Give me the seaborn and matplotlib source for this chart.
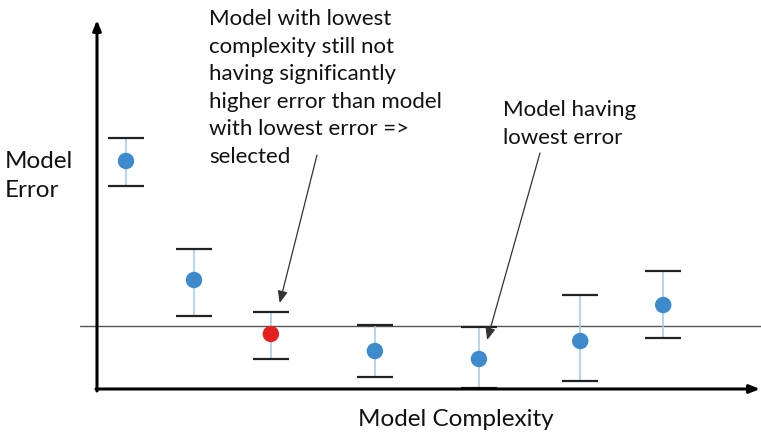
import matplotlib
matplotlib.use("Agg")
import matplotlib.pyplot as plt
import numpy as np
import pandas as pd
import seaborn as sns

# Model complexity (x) and cross-validated error relative to the 1-SE threshold line
complexity = [1.0, 2.0, 3.13, 4.66, 6.19, 7.68, 8.9]
error_mean = [16.5, 4.6, -0.8, -2.5, -3.3, -1.5, 2.1]
error_upper = [18.8, 7.7, 1.4, 0.1, -0.1, 3.1, 5.5]
error_lower = [14.0, 1.0, -3.3, -5.1, -6.2, -5.5, -1.2]
status = ["other", "other", "selected", "other", "other", "other", "other"]
threshold = 0.0

df = pd.DataFrame({"complexity": complexity, "error": error_mean,
                   "upper": error_upper, "lower": error_lower, "status": status})

sns.set_theme(style="white")
plt.rcParams["font.family"] = ["Lato", "DejaVu Sans"]

fig = plt.figure(figsize=(7.61, 4.38), dpi=100)
ax = fig.add_axes([0, 0, 1, 1])
ax.set_xlim(-0.853, 10.338)
ax.set_ylim(-11.2, 32.6)
ax.axis("off")

blue = "#3d8bcd"
red = "#e3211e"
W, H = 761, 438


def fr(px, py):
    """Convert a pixel position (origin top-left) into axes fraction."""
    return (px / W, 1 - py / H)


# threshold line
ax.axhline(threshold, xmin=80 / W, xmax=1, color="#555555", lw=1.0, zorder=1)

# error bars: light blue stems, black caps
yerr = np.vstack([df["error"] - df["lower"], df["upper"] - df["error"]])
eb = ax.errorbar(df["complexity"], df["error"], yerr=yerr, fmt="none",
                 ecolor="#a9cdeb", elinewidth=1.2, capsize=13, capthick=1.6, zorder=2)
for cap in eb[1]:
    cap.set_color("#222222")
    cap.set_markeredgecolor("#222222")

sns.scatterplot(data=df, x="complexity", y="error", hue="status",
                palette={"other": blue, "selected": red}, s=140,
                edgecolor="none", legend=False, ax=ax, zorder=3)

# axes drawn as arrows
axis_arrow = dict(arrowstyle="-|>,head_length=0.5,head_width=0.2",
                  color="black", lw=2.2, shrinkA=0, shrinkB=0)
ax.annotate("", xy=fr(97, 20), xytext=fr(97, 391), xycoords="axes fraction",
            arrowprops=axis_arrow)
ax.annotate("", xy=fr(760, 389), xytext=fr(96, 389), xycoords="axes fraction",
            arrowprops=axis_arrow)

ax.text(*fr(5, 176), "Model\nError", transform=ax.transAxes,
        fontsize=17.5, color="#111111", ha="left", va="center", linespacing=1.45)
ax.text(*fr(456, 419), "Model Complexity", transform=ax.transAxes,
        fontsize=17.5, color="#111111", ha="center", va="center")

sel = df[df["status"] == "selected"].iloc[0]
best = df.loc[df["error"].idxmin()]

note_arrow = dict(arrowstyle="-|>,head_length=0.6,head_width=0.25",
                  color="#333333", lw=0.9, shrinkA=0, shrinkB=0)

ax.text(*fr(209, 88), "Model with lowest\ncomplexity still not\nhaving significantly\n"
        "higher error than model\nwith lowest error =>\nselected",
        transform=ax.transAxes, fontsize=16, ha="left", va="center",
        linespacing=1.47, color="#111111")
ax.annotate("", xy=(sel["complexity"] + 0.13, sel["upper"] + 0.9), xycoords="data",
            xytext=fr(317, 155), textcoords="axes fraction", arrowprops=note_arrow)

ax.text(*fr(503, 124), "Model having\nlowest error", transform=ax.transAxes,
        fontsize=16, ha="left", va="center", linespacing=1.47, color="#111111")
ax.annotate("", xy=(best["complexity"] + 0.12, best["error"] + 1.9), xycoords="data",
            xytext=fr(540, 153), textcoords="axes fraction", arrowprops=note_arrow)

fig.savefig("out.png", dpi=100)
